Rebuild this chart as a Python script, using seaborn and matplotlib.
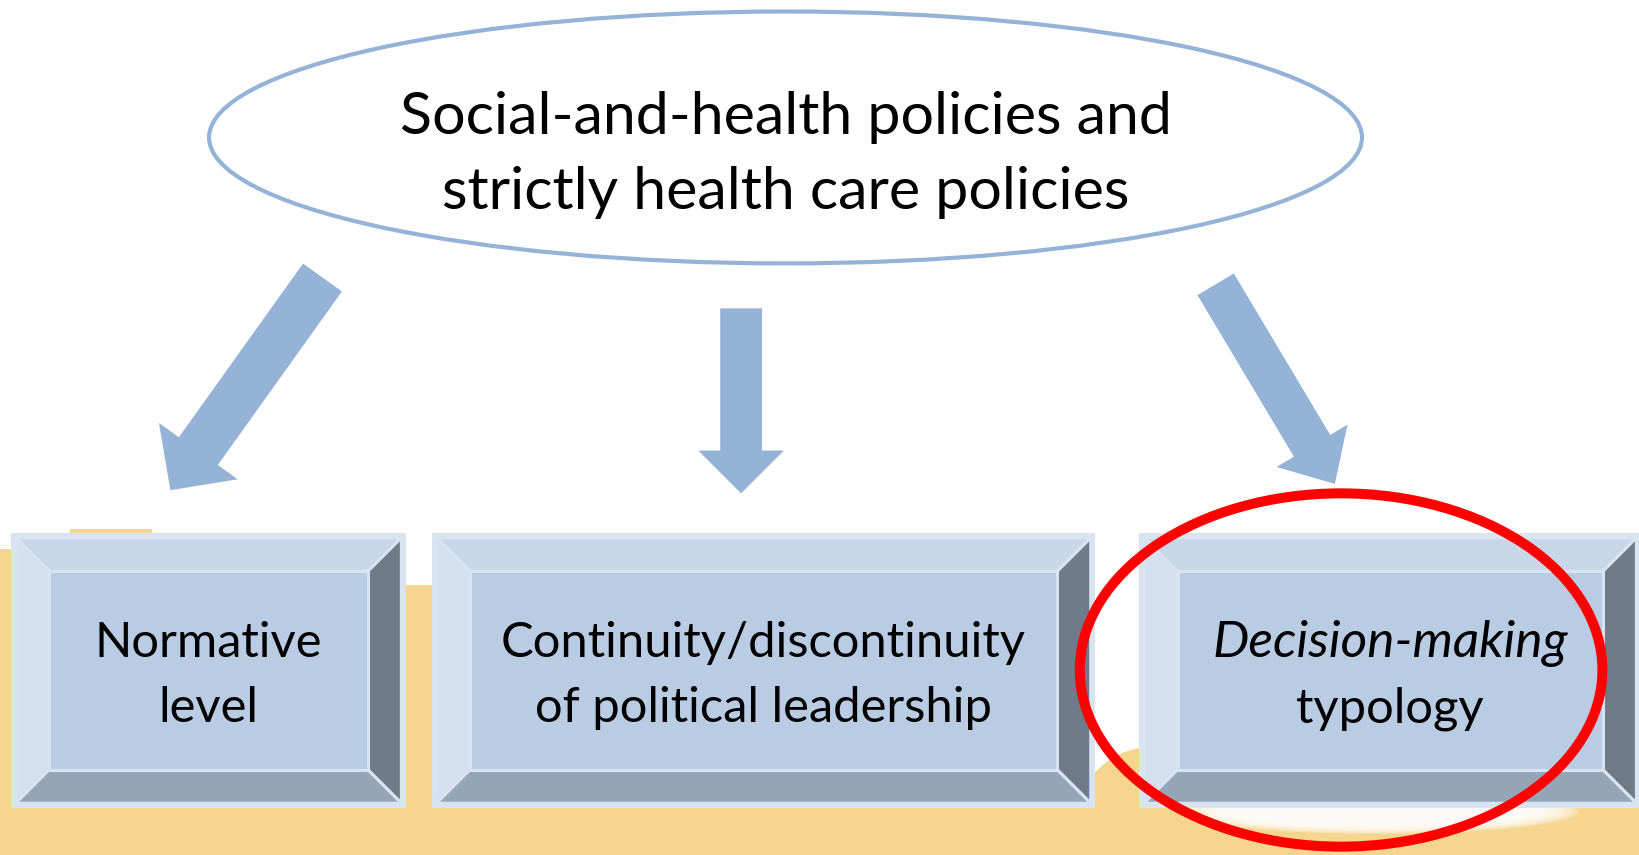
import matplotlib
matplotlib.use("Agg")
import matplotlib.pyplot as plt
import seaborn as sns
from matplotlib.patches import Ellipse, Polygon, Rectangle, FancyArrow

sns.set_theme(style="white")
plt.rcParams['font.family'] = ['Lato', 'DejaVu Sans']

# ---- content ----
title_lines = ["Social-and-health policies and", "strictly health care policies"]
box_lines = [
    [("Normative", "normal"), ("level", "normal")],
    [("Continuity/discontinuity", "normal"), ("of political leadership", "normal")],
    [("Decision-making", "italic"), ("typology", "normal")],
]

# ---- layout (reference pixel space 1568 x 818) ----
W, H = 1568, 818
SC = 1639 / 1568
ARROW_C = "#95b3d7"
YELLOW = "#f6d58e"
box_x = [(10.5, 388.5), (413, 1048), (1090, 1570)]
box_y = (510, 773)
rim, bev = 4.5, 32
face_c, top_c, left_c, right_c, bot_c, rim_c = "#b9cce4", "#c7d7e9", "#d4e0f0", "#6f7b89", "#94a5b7", "#d9e4f1"

fig = plt.figure(figsize=(16.39, 8.55), dpi=100)
ax = fig.add_axes([0, 0, 1, 1])
ax.set_xlim(0, W)
ax.set_ylim(H, 0)
ax.axis("off")

# yellow background shapes
ax.add_patch(Rectangle((0, 560), 1040, H - 560, fc=YELLOW, ec="none", zorder=1))
ax.add_patch(Rectangle((0, 525), 300, H - 525, fc=YELLOW, ec="none", zorder=1))
ax.add_patch(Rectangle((67, 506), 78, 40, fc=YELLOW, ec="none", zorder=1))
ax.add_patch(Rectangle((0, 770), W, H - 770, fc=YELLOW, ec="none", zorder=1))
ax.add_patch(Ellipse((1100, 800), 150, 170, fc=YELLOW, ec="none", zorder=1))
for k in range(8):
    ax.add_patch(Ellipse((1320, 776), 380 - k * 12, 44 - k * 2.5, fc="white", ec="none",
                         alpha=0.3, zorder=1.5))

# top ellipse
ax.add_patch(Ellipse((751.5, 131.5), 1103, 241, fc="white", ec=ARROW_C, lw=3.0, zorder=3))

# arrows
arrows = [((308.5, 265.5), (163, 469), 45.8, 92.7, 46),
          ((709, 295), (709, 472), 40, 82, 41),
          ((1163, 272), (1277, 463), 40.5, 79, 42.5)]
for (x0, y0), (x1, y1), wd, hw, hl in arrows:
    ax.add_patch(FancyArrow(x0, y0, x1 - x0, y1 - y0, width=wd, head_width=hw, head_length=hl,
                            length_includes_head=True, fc=ARROW_C, ec="none", zorder=3))

# bevel boxes
y0, y1 = box_y
for (x0, x1) in box_x:
    ax.add_patch(Rectangle((x0, y0), x1 - x0, y1 - y0, fc=rim_c, ec="none", zorder=4))
    a0, a1, b0, b1 = x0 + rim, x1 - rim, y0 + rim, y1 - rim
    c0, c1, d0, d1 = a0 + bev, a1 - bev, b0 + bev, b1 - bev
    polys = [
        ([(a0, b0), (a1, b0), (c1, d0), (c0, d0)], top_c),
        ([(a0, b0), (c0, d0), (c0, d1), (a0, b1)], left_c),
        ([(a1, b0), (a1, b1), (c1, d1), (c1, d0)], right_c),
        ([(a0, b1), (c0, d1), (c1, d1), (a1, b1)], bot_c),
        ([(c0, d0), (c1, d0), (c1, d1), (c0, d1)], face_c),
    ]
    for pts, col in polys:
        ax.add_patch(Polygon(pts, closed=True, fc=col, ec=rim_c, lw=2.2, joinstyle="miter", zorder=5))

# red ellipse
ax.add_patch(Ellipse((1283, 641), 500, 338, fc="none", ec="#ff0000", lw=7.2, zorder=8))

# texts
title_base = [128, 200]
title_objs = [ax.text(751.5, yb, t, ha="center", va="baseline", fontsize=36, color="black", zorder=9)
              for t, yb in zip(title_lines, title_base)]
box_base = [629, 691]
box_objs = []
for (x0, x1), lines in zip(box_x, box_lines):
    cx = (x1 + x0) / 2 if x1 <= W else (1127 + 1533) / 2
    for (t, st), yb in zip(lines, box_base):
        box_objs.append(ax.text(cx, yb, t, ha="center", va="baseline", fontsize=30,
                                fontstyle=st, color="black", zorder=9))

# fit font sizes to reference widths
fig.canvas.draw()
r = fig.canvas.get_renderer()
def fit(objs, ref_obj, target_w):
    w = ref_obj.get_window_extent(r).width
    fs = ref_obj.get_fontsize() * target_w * SC / w
    for o in objs:
        o.set_fontsize(fs)
fit(title_objs, title_objs[0], 740)
fit(box_objs[:4] + box_objs[5:], box_objs[2], 502)
fit([box_objs[4]], box_objs[4], 340)

fig.savefig("out.png", dpi=100, facecolor="white")
